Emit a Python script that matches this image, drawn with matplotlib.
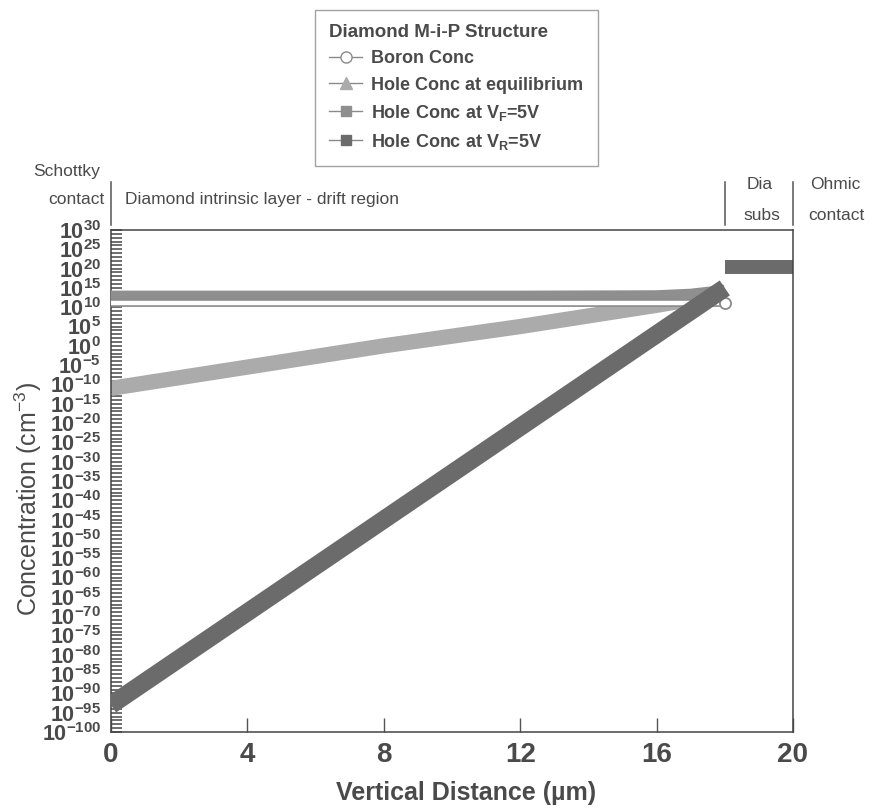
import numpy as np
import matplotlib.pyplot as plt
import matplotlib.patheffects as pe
from matplotlib import font_manager
from matplotlib.lines import Line2D
from matplotlib.ticker import FixedLocator, FuncFormatter, NullFormatter

# depth through the M-i-P stack (um): intrinsic drift layer, then substrate
x_drift = [0, 4, 8, 12, 16, 17, 18]
x_subs = [18, 20]

# log10 of concentration (cm^-3)
boron_drift = [11, 11, 11, 11, 11, 11, 11]
hole_eq_drift = [-11, -5.5, 0, 5, 10.5, 12, 14]
hole_vf_drift = [12.5, 12.5, 12.5, 12.5, 12.6, 13, 14]
hole_vr_drift = [-93, -69, -45, -21, 3, 9, 15]
subs_conc = [20.5, 20.5]

series_labels = ['Boron Conc', 'Hole Conc at equilibrium',
                 'Hole Conc at V$_\\mathbf{F}$=5V', 'Hole Conc at V$_\\mathbf{R}$=5V']
tick_exp = list(range(-100, 31, 5))
x_ticks = [0, 4, 8, 12, 16, 20]
region_edges = [0, 18, 20]

names = {f.name for f in font_manager.fontManager.ttflist}
narrow = 'Liberation Sans Narrow' if 'Liberation Sans Narrow' in names else 'Liberation Sans'

plt.rcParams['font.family'] = ['Liberation Sans', 'DejaVu Sans']
plt.rcParams['mathtext.fontset'] = 'custom'
plt.rcParams['mathtext.rm'] = 'Liberation Sans'
plt.rcParams['mathtext.it'] = 'Liberation Sans:italic'
plt.rcParams['mathtext.bf'] = narrow + ':bold'

txt = '#4a4a4a'
c_boron = '#8a8a8a'
c_eq = '#ababab'
c_vf = '#8f8f8f'
c_vr = '#6b6b6b'


def conc(v):
    return 10.0 ** np.asarray(v, dtype=float)


fig = plt.figure(figsize=(8.72, 8.11), dpi=100)
ax = fig.add_axes([0.1273, 0.0974, 0.7821, 0.619])
ax.set_yscale('log')

# substrate region, all four profiles coincide there
for c in (c_eq, c_vf, c_vr):
    ax.plot(x_subs, conc(subs_conc), color=c, lw=10, solid_capstyle='butt', zorder=2)

ax.plot(x_drift, conc(hole_eq_drift), color=c_eq, lw=11, solid_capstyle='butt', zorder=2)
ax.plot(x_drift, conc(hole_vf_drift), color=c_vf, lw=10, solid_capstyle='butt', zorder=3)
ax.plot(x_drift, conc(boron_drift), color='white', lw=3.2, solid_capstyle='butt', zorder=4,
        path_effects=[pe.Stroke(linewidth=5.6, foreground=c_boron), pe.Normal()])
ax.plot(x_drift[-1], conc(boron_drift[-1]), 'o', ms=8, mfc='white', mec=c_boron, mew=1.3, zorder=4)
ax.plot(x_drift, conc(hole_vr_drift), color=c_vr, lw=13, solid_capstyle='butt', zorder=5)

ax.set_xlim(0, 20)
ax.set_ylim(1e-100, 1e30)

ax.yaxis.set_major_locator(FixedLocator(conc(tick_exp)))
ax.yaxis.set_minor_locator(FixedLocator(conc(range(-100, 31))))
ax.yaxis.set_major_formatter(FuncFormatter(lambda v, p: r'$\mathbf{10^{%d}}$' % round(np.log10(v))))
ax.yaxis.set_minor_formatter(NullFormatter())
ax.set_xticks(x_ticks)

ax.tick_params(axis='y', which='both', direction='in', length=8, width=1.2, color='#555555',
               labelsize=15.5, labelcolor=txt, pad=7)
ax.tick_params(axis='x', direction='in', length=10, width=1.0, color='#555555',
               labelsize=20, labelcolor=txt, pad=7)
for lab in ax.get_xticklabels():
    lab.set_fontweight('bold')
    lab.set_family([narrow, 'Liberation Sans'])
for s in ax.spines.values():
    s.set_color('#444444')
    s.set_linewidth(1.1)

ax.set_xlabel('Vertical Distance (\u00b5m)', fontsize=18, fontweight='bold', color=txt,
              family=[narrow, 'Liberation Sans'])
ax.xaxis.set_label_coords(0.52, -0.098)
ax.set_ylabel('Concentration (cm$^{-3}$)', fontsize=18, color=txt)
ax.yaxis.set_label_coords(-0.098, 0.464)

# region boundaries above the plot
for xe in region_edges:
    ax.plot([xe, xe], [1.01, 1.095], transform=ax.get_xaxis_transform(), color='#555555',
            lw=1.1, clip_on=False)

kw = dict(fontsize=12.5, color=txt, va='center')
fig.text(0.0768, 0.788, 'Schottky', ha='center', **kw)
fig.text(0.1204, 0.7534, 'contact', ha='right', **kw)
fig.text(0.1433, 0.7534, 'Diamond intrinsic layer - drift region', ha='left', **kw)
fig.text(0.8716, 0.7719, 'Dia', ha='center', **kw)
fig.text(0.8739, 0.7337, 'subs', ha='center', **kw)
fig.text(0.9576, 0.7719, 'Ohmic', ha='center', **kw)
fig.text(0.9587, 0.7337, 'contact', ha='center', **kw)

handles = [
    Line2D([], [], color=c_boron, lw=1, marker='o', ms=8, mfc='white', mec=c_boron),
    Line2D([], [], color=c_boron, lw=1, marker='^', ms=9, mfc=c_eq, mec=c_eq),
    Line2D([], [], color=c_boron, lw=1, marker='s', ms=7, mfc=c_vf, mec=c_vf),
    Line2D([], [], color=c_boron, lw=1, marker='s', ms=7, mfc=c_vr, mec=c_vr),
]
leg = fig.legend(handles, series_labels, title='Diamond M-i-P Structure', loc='upper left',
                 bbox_to_anchor=(315 / 872, 1 - 10 / 811), bbox_transform=fig.transFigure,
                 borderaxespad=0, frameon=True, fancybox=False, edgecolor='#8c8c8c',
                 prop=dict(weight='bold', size=13, family=[narrow, 'Liberation Sans']),
                 title_fontproperties=dict(weight='bold', size=13.5),
                 alignment='left', handlelength=1.8, handletextpad=0.5,
                 labelspacing=0.5, borderpad=0.8, labelcolor=txt)
leg.get_title().set_color(txt)
leg.get_frame().set_linewidth(1.0)

fig.savefig('out.png', dpi=100)
